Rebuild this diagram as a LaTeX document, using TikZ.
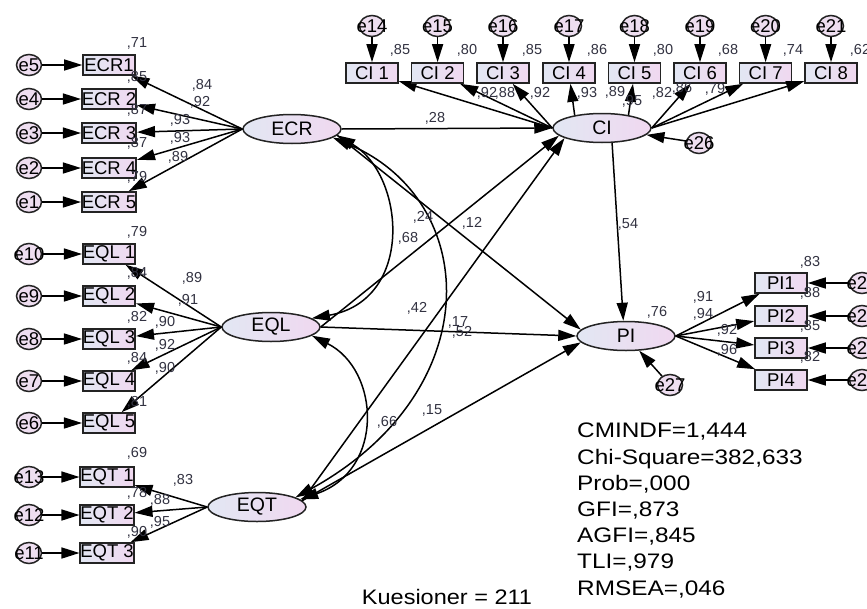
\documentclass[tikz,border=0pt]{standalone}
\usepackage{fontspec}
\setmainfont{Liberation Sans}
\usetikzlibrary{arrows.meta,shapes.geometric}

\definecolor{fillL}{RGB}{226,231,243}
\definecolor{fillR}{RGB}{240,216,240}
\definecolor{errfill}{RGB}{238,222,240}
\definecolor{edge}{RGB}{35,35,35}
\definecolor{lbl}{RGB}{50,50,65}

\begin{document}
\begin{tikzpicture}[x=1pt,y=-1pt,
  obs/.style={rectangle, draw=edge, line width=1.6pt, left color=fillL, right color=fillR,
    minimum width=52pt, minimum height=20pt, inner sep=0pt, font=\fontsize{18.5}{18.5}\selectfont},
  lat/.style={ellipse, draw=edge, line width=1.5pt, left color=fillL, right color=fillR,
    minimum width=98pt, minimum height=29pt, inner sep=0pt, font=\fontsize{19.5}{19.5}\selectfont},
  err/.style={ellipse, draw=edge, line width=1.5pt, fill=errfill,
    minimum width=25pt, minimum height=21pt, inner sep=0pt, font=\fontsize{18.5}{18.5}\selectfont},
  reg/.style={-{Triangle[length=18pt,width=11pt]}, line width=1.5pt},
  cov/.style={{Triangle[length=18pt,width=11pt]}-{Triangle[length=18pt,width=11pt]}, line width=1.5pt},
  lab/.style={font=\fontsize{14.5}{14.5}\selectfont, text=lbl, inner sep=0pt},
  fit/.style={font=\fontsize{21}{26.2}\selectfont, inner sep=0pt, xscale=1.16},
]
\path[use as bounding box, fill=white] (0,0) rectangle (867,608);

% latent variables
\node[lat] (ECR) at (292,129) {ECR};
\node[lat] (CI)  at (602,128) {CI};
\node[lat] (EQL) at (271,327) {EQL};
\node[lat] (EQT) at (257,507) {EQT};
\node[lat] (PI)  at (626,336) {PI};

% ECR indicators
\foreach \i/\t/\e/\y in {1/ECR1/e5/65, 2/ECR 2/e4/99, 3/ECR 3/e3/133, 4/ECR 4/e2/168, 5/ECR 5/e1/202}{
  \node[obs] (ecr\i) at (109,\y) {\t};
  \node[err] (\e) at (29,\y) {\makebox[0pt]{\e}};
  \draw[reg] (\e) -- (ecr\i);
  \draw[reg] (ECR.west) -- (ecr\i);
}

% EQL indicators
\foreach \i/\e/\y in {1/e10/254, 2/e9/296, 3/e8/339, 4/e7/381, 5/e6/423}{
  \node[obs] (eql\i) at (109,\y) {EQL \i};
  \node[err] (\e) at (29,\y) {\makebox[0pt]{\e}};
  \draw[reg] (\e) -- (eql\i);
  \draw[reg] (EQL.west) -- (eql\i);
}

% EQT indicators
\foreach \i/\e/\y in {1/e13/477, 2/e12/515, 3/e11/553}{
  \node[obs] (eqt\i) at (107,\y) {EQT \i};
  \node[err] (\e) at (29,\y) {\makebox[0pt]{\e}};
  \draw[reg] (\e) -- (eqt\i);
  \draw[reg] (EQT.west) -- (eqt\i);
}

% CI indicators
\foreach \i/\e/\x/\a in {1/e14/372/west, 2/e15/437.6/west, 3/e16/503/west, 4/e17/569/155,
                         5/e18/634.5/26, 6/e19/700/east, 7/e20/765.6/east, 8/e21/831/east}{
  \node[obs] (ci\i) at (\x,73) {CI \i};
  \node[err] (\e) at (\x,26) {\makebox[0pt]{\e}};
  \draw[reg] (\e) -- (ci\i);
  \draw[reg] (CI.\a) -- (ci\i);
}

% PI indicators
\foreach \i/\e/\y in {1/e22/283, 2/e23/316, 3/e24/348, 4/e25/380}{
  \node[obs] (pi\i) at (781,\y) {PI\i};
  \node[err] (\e) at (862,\y) {\makebox[0pt]{\e}};
  \draw[reg] (\e) -- (pi\i);
  \draw[reg] (PI.east) -- (pi\i);
}

% structural residuals
\node[err] (e26) at (699,143) {\makebox[0pt]{e26}};
\node[err] (e27) at (670,385) {\makebox[0pt]{e27}};
\draw[reg] (e26) -- (CI);
\draw[reg] (e27) -- (PI);

% structural paths
\draw[reg] (ECR.east) -- (CI.west);
\draw[reg] (ECR.-8) -- (PI.172);
\draw[reg] (EQL.east) -- (CI.190);
\draw[reg] (EQL.east) -- (PI.west);
\draw[reg] (EQT.8) -- (CI.195);
\draw[reg] (EQT.8) -- (PI.188);
\draw[reg] (CI.-56) -- (PI.100);

% covariances between exogenous constructs
\draw[cov] (ECR.-8) .. controls (405,175) and (415,300) .. (EQL.12);
\draw[cov] (ECR.-12) .. controls (480,200) and (490,390) .. (EQT.14);
\draw[cov] (EQL.-12) .. controls (380,370) and (385,470) .. (EQT.10);

% squared multiple correlations, ECR block
\node[lab] (r1) at (137,43) {,71};
\node[lab] (r2) at (137,77) {,85};
\node[lab] (r3) at (137,110) {,87};
\node[lab] (r4) at (137,143) {,87};
\node[lab] (r5) at (137,177) {,79};
% loadings, ECR block
\node[lab] (k1) at (202,85) {,84};
\node[lab] (k2) at (200,102) {,92};
\node[lab] (k3) at (180,120) {,93};
\node[lab] (k4) at (180,138) {,93};
\node[lab] (k5) at (178,157) {,89};

% EQL block
\node[lab] (r6) at (137,232) {,79};
\node[lab] (r7) at (137,273) {,84};
\node[lab] (r8) at (137,317) {,82};
\node[lab] (r9) at (137,358) {,84};
\node[lab] (r10) at (137,402) {,81};
\node[lab] (k6) at (192,278) {,89};
\node[lab] (k7) at (188,300) {,91};
\node[lab] (k8) at (165,322) {,90};
\node[lab] (k9) at (165,345) {,92};
\node[lab] (k10) at (165,368) {,90};

% EQT block
\node[lab] (r11) at (137,453) {,69};
\node[lab] (r12) at (137,493) {,78};
\node[lab] (r13) at (137,532) {,90};
\node[lab] (k11) at (183,480) {,83};
\node[lab] (k12) at (160,500) {,88};
\node[lab] (k13) at (160,522) {,95};

% CI block
\node[lab] (r14) at (400,50) {,85};
\node[lab] (r15) at (467,50) {,80};
\node[lab] (r16) at (532,50) {,85};
\node[lab] (r17) at (597,50) {,86};
\node[lab] (r18) at (663,50) {,80};
\node[lab] (r19) at (728,50) {,68};
\node[lab] (r20) at (793,50) {,74};
\node[lab] (r21) at (860,50) {,62};
\node[lab] (k14) at (487,93) {,92};
\node[lab] (k15) at (505,93) {,88};
\node[lab] (k16) at (540,93) {,92};
\node[lab] (k17) at (587,93) {,93};
\node[lab] (k18) at (615,92) {,89};
\node[lab] (k19) at (632,101) {,95};
\node[lab] (k20) at (662,93) {,82};
\node[lab] (k21) at (682,88) {,86};
\node[lab] (k22) at (715,89) {,79};

% PI block
\node[lab] (r22) at (810,262) {,83};
\node[lab] (r23) at (810,293) {,88};
\node[lab] (r24) at (810,326) {,85};
\node[lab] (r25) at (810,357) {,82};
\node[lab] (k23) at (703,297) {,91};
\node[lab] (k24) at (703,314) {,94};
\node[lab] (k25) at (727,330) {,92};
\node[lab] (k26) at (727,350) {,96};
\node[lab] (r27) at (657,312) {,76};

% structural coefficients and correlations
\node[lab] (s1) at (435,118) {,28};
\node[lab] (s2) at (423,217) {,24};
\node[lab] (s3) at (472,223) {,12};
\node[lab] (s4) at (408,238) {,68};
\node[lab] (s5) at (628,224) {,54};
\node[lab] (s6) at (417,308) {,42};
\node[lab] (s7) at (458,322) {,17};
\node[lab] (s8) at (462,332) {,52};
\node[lab] (s9) at (387,422) {,66};
\node[lab] (s10) at (432,410) {,15};

% fit statistics
\node[fit, anchor=north west, align=left] (fitstats) at (577,423)
  {CMINDF=1,444\\Chi-Square=382,633\\Prob=,000\\GFI=,873\\AGFI=,845\\TLI=,979\\RMSEA=,046};
\node[fit, xscale=0.965] (sample) at (447,597) {Kuesioner = 211};
\end{tikzpicture}
\end{document}
